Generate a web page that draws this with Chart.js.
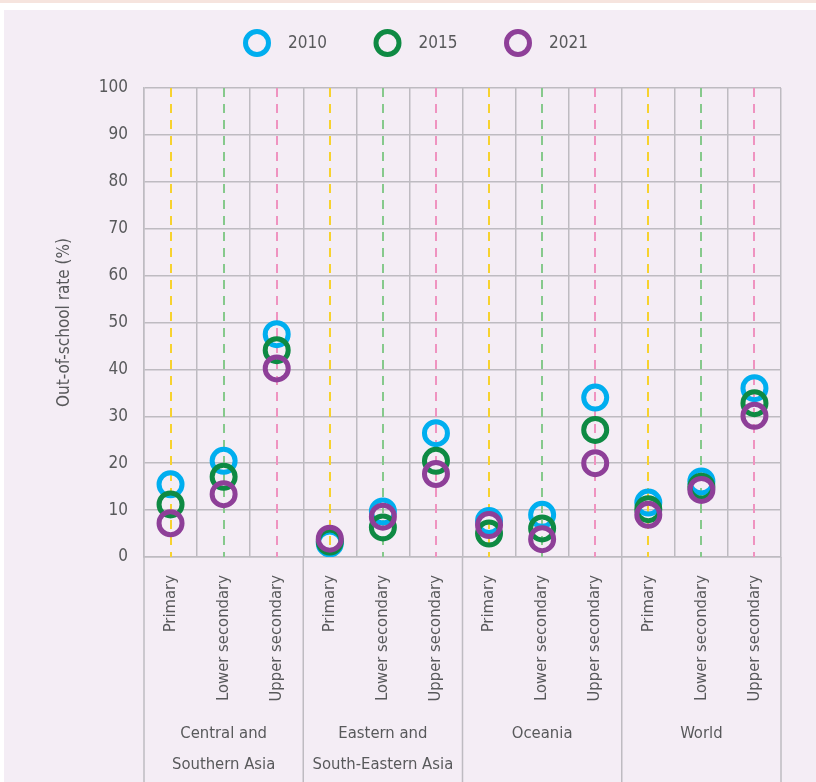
<!DOCTYPE html>
<html><head><meta charset="utf-8">
<script src="https://cdn.jsdelivr.net/npm/chart.js@4"></script>
<style>
html,body{margin:0;padding:0;background:#fff;}
#wrap{position:relative;width:816px;height:782px;overflow:hidden;}
#strip{position:absolute;left:0;top:0;width:816px;height:3px;background:#f6e4de;}
#panel{position:absolute;left:4px;top:10px;width:812px;height:772px;background:#f4edf5;}
canvas{position:absolute;left:0;top:0;}
</style></head><body>
<div id="wrap"><div id="strip"></div><div id="panel"></div><canvas id="c" width="816" height="782"></canvas></div>
<script>
const groups = [["Central and","Southern Asia"],["Eastern and","South-Eastern Asia"],["Oceania"],["World"]];
const levels = ["Primary","Lower secondary","Upper secondary"];
const categories = ["Primary","Lower secondary","Upper secondary","Primary","Lower secondary","Upper secondary","Primary","Lower secondary","Upper secondary","Primary","Lower secondary","Upper secondary"];
const years = ["2010","2015","2021"];
const values2010 = [15.5,20.5,47.5, 2.9,9.7,26.4, 7.7,9.0,34.0, 11.6,16.1,36.0];
const values2015 = [11.2,17.1,44.1, 3.3,6.3,20.5, 5.0,6.1,27.1, 10.2,15.0,32.8];
const values2021 = [7.2,13.4,40.2, 3.9,8.6,17.7, 6.8,3.8,20.0, 9.0,14.3,30.1];
const yMin = 0, yMax = 100, yStep = 10;
const yTitle = "Out-of-school rate (%)";

const FONT = "'DejaVu Sans Condensed','Liberation Sans Narrow',sans-serif";
const TXT = '#58595b';
const GRID = '#bebbc1';
const seriesColors = ['#00aeef','#0e8a43','#8e3f98'];
const levelColors = ['#f7d22e','#86c98c','#ef93c0'];

const decor = {
  id:'decor',
  beforeDatasetsDraw(chart){
    const {ctx, chartArea:a, scales:{x}} = chart;
    ctx.save();
    ctx.lineWidth = 2;
    ctx.setLineDash([9,7]);
    categories.forEach((c,i)=>{
      const px = Math.round(x.getPixelForValue(i));
      ctx.strokeStyle = levelColors[levels.indexOf(c)];
      ctx.beginPath(); ctx.moveTo(px, a.top); ctx.lineTo(px, a.bottom); ctx.stroke();
    });
    ctx.restore();
  },
  afterDraw(chart){
    const {ctx, chartArea:a, scales:{x}} = chart;
    const step = x.getPixelForValue(1) - x.getPixelForValue(0);
    const n = levels.length;
    ctx.save();
    ctx.strokeStyle = GRID; ctx.lineWidth = 1.5;
    for (let g=0; g<=groups.length; g++){
      const px = x.getPixelForValue(g*n) - step/2;
      ctx.beginPath(); ctx.moveTo(px, a.bottom); ctx.lineTo(px, chart.height); ctx.stroke();
    }
    ctx.fillStyle = TXT; ctx.font = "16.5px " + FONT; ctx.textAlign='center'; ctx.textBaseline='alphabetic';
    groups.forEach((lines,g)=>{
      const cx = (x.getPixelForValue(g*n) + x.getPixelForValue(g*n+n-1))/2;
      lines.forEach((t,k)=> ctx.fillText(t, cx, 738 + k*31));
    });
    // legend
    ctx.font = "17px " + FONT; ctx.textAlign='left'; ctx.textBaseline='middle';
    chart.data.datasets.forEach((ds,i)=>{
      const cx = 257 + i*130.5, cy = 43;
      ctx.strokeStyle = ds.borderColor; ctx.lineWidth = 5;
      ctx.beginPath(); ctx.arc(cx, cy, 11.5, 0, Math.PI*2); ctx.stroke();
      ctx.fillStyle = TXT; ctx.fillText(ds.label, cx + 31, cy + 1);
    });
    ctx.restore();
  }
};

const mk = (label, data, color, order) => ({
  label, data, borderColor: color, backgroundColor: 'transparent',
  pointBackgroundColor: 'transparent', pointBorderColor: color,
  pointRadius: 11.5, pointHoverRadius: 11.5, pointBorderWidth: 5, pointHoverBorderWidth: 5,
  showLine: false, order
});

new Chart(document.getElementById('c'), {
  type: 'line',
  data: {
    labels: categories,
    datasets: [
      mk(years[0], values2010, seriesColors[0], 3),
      mk(years[1], values2015, seriesColors[1], 2),
      mk(years[2], values2021, seriesColors[2], 1)
    ]
  },
  options: {
    responsive: false, animation: false, devicePixelRatio: 1,
    layout: { padding: { top: 88, right: 35, bottom: 0, left: 0 } },
    plugins: { legend: { display: false }, tooltip: { enabled: false } },
    scales: {
      x: {
        type: 'category', offset: true,
        grid: { offset: true, color: GRID, lineWidth: 1.5, drawTicks: false },
        border: { display: true, color: GRID, width: 1.5 },
        ticks: { autoSkip: false, maxRotation: 90, minRotation: 90, padding: 18, color: TXT, font: { family: FONT, size: 16.5 } },
        afterFit(s){ s.height = 225; }
      },
      y: {
        min: yMin, max: yMax,
        grid: { color: GRID, lineWidth: 1.5, drawTicks: false },
        border: { display: true, color: GRID, width: 1.5 },
        ticks: { stepSize: yStep, padding: 16, color: TXT, font: { family: FONT, size: 17 } },
        title: { display: true, text: yTitle, color: TXT, font: { family: FONT, size: 17 }, padding: { top: 54, bottom: 0 } },
        afterFit(s){ s.width = 144; }
      }
    }
  },
  plugins: [decor]
});
</script>
</body></html>
